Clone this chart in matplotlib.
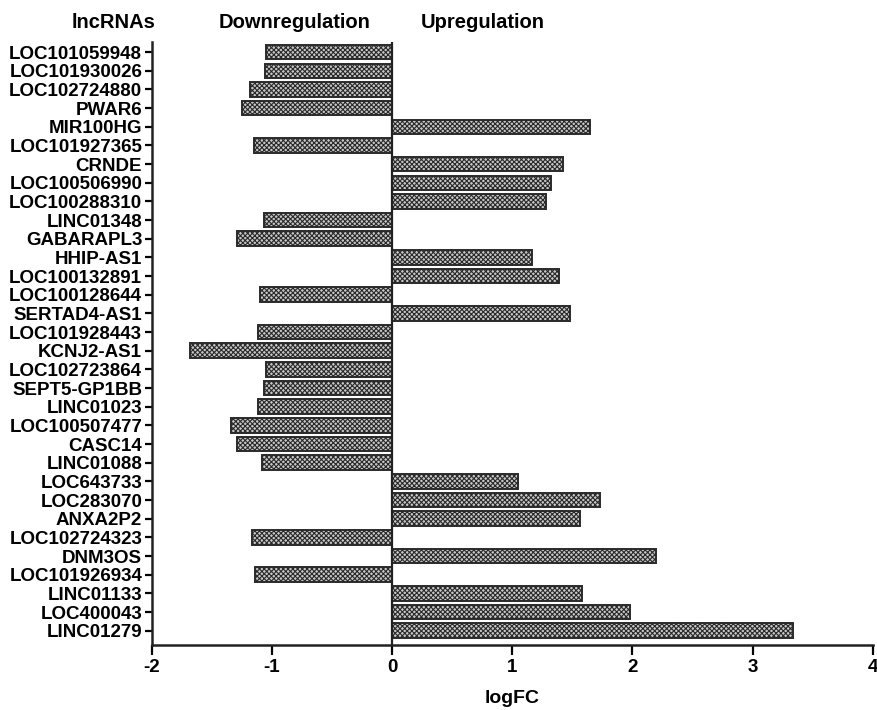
import matplotlib
matplotlib.use('Agg')
import matplotlib.pyplot as plt
import numpy as np

# lncRNAs from top to bottom as shown in the figure
genes = ['LOC101059948', 'LOC101930026', 'LOC102724880', 'PWAR6', 'MIR100HG',
         'LOC101927365', 'CRNDE', 'LOC100506990', 'LOC100288310', 'LINC01348',
         'GABARAPL3', 'HHIP-AS1', 'LOC100132891', 'LOC100128644', 'SERTAD4-AS1',
         'LOC101928443', 'KCNJ2-AS1', 'LOC102723864', 'SEPT5-GP1BB', 'LINC01023',
         'LOC100507477', 'CASC14', 'LINC01088', 'LOC643733', 'LOC283070',
         'ANXA2P2', 'LOC102724323', 'DNM3OS', 'LOC101926934', 'LINC01133',
         'LOC400043', 'LINC01279']
logfc = [-1.05, -1.06, -1.18, -1.25, 1.65,
         -1.15, 1.42, 1.32, 1.28, -1.07,
         -1.29, 1.16, 1.39, -1.10, 1.48,
         -1.12, -1.68, -1.05, -1.07, -1.12,
         -1.34, -1.29, -1.08, 1.05, 1.73,
         1.56, -1.17, 2.20, -1.14, 1.58,
         1.98, 3.34]
xticks = [-2, -1, 0, 1, 2, 3, 4]

plt.rcParams['font.family'] = ['Liberation Sans', 'DejaVu Sans']
plt.rcParams['font.weight'] = 'bold'
plt.rcParams['hatch.linewidth'] = 0.8

fig = plt.figure(figsize=(8.78, 7.10), dpi=100)
ax = fig.add_axes([0.173, 0.0915, 0.821, 0.8495])

n = len(genes)
ypos = np.arange(n)[::-1]
ax.barh(ypos, logfc, height=0.78, color='#c8c8c8', edgecolor='#2a2a2a',
        hatch='xxxxxxx', linewidth=1.4)
ax.axvline(0, color='#222222', linewidth=1.6)

ax.set_ylim(-0.77, n - 1 + 0.55)
ax.set_xlim(-2, 4)
ax.set_xticks(xticks)
ax.set_xticklabels([str(t) for t in xticks], fontsize=13.5, fontweight='bold')
ax.set_yticks(ypos)
ax.set_yticklabels(genes, fontsize=13.5, fontweight='bold')
ax.tick_params(axis='y', length=5, width=1.6, pad=2)
ax.tick_params(axis='x', length=7, width=1.6, pad=3)

for side in ['top', 'right']:
    ax.spines[side].set_visible(False)
for side in ['left', 'bottom']:
    ax.spines[side].set_linewidth(1.8)
    ax.spines[side].set_color('#222222')

ax.set_xlabel('logFC', fontsize=14, fontweight='bold', labelpad=10)

fig.text(0.177, 0.968, 'lncRNAs', ha='right', va='center', fontsize=14.5, fontweight='bold')
fig.text(0.335, 0.968, 'Downregulation', ha='center', va='center', fontsize=14.5, fontweight='bold')
fig.text(0.550, 0.968, 'Upregulation', ha='center', va='center', fontsize=14.5, fontweight='bold')

fig.savefig('out.png', dpi=100)
